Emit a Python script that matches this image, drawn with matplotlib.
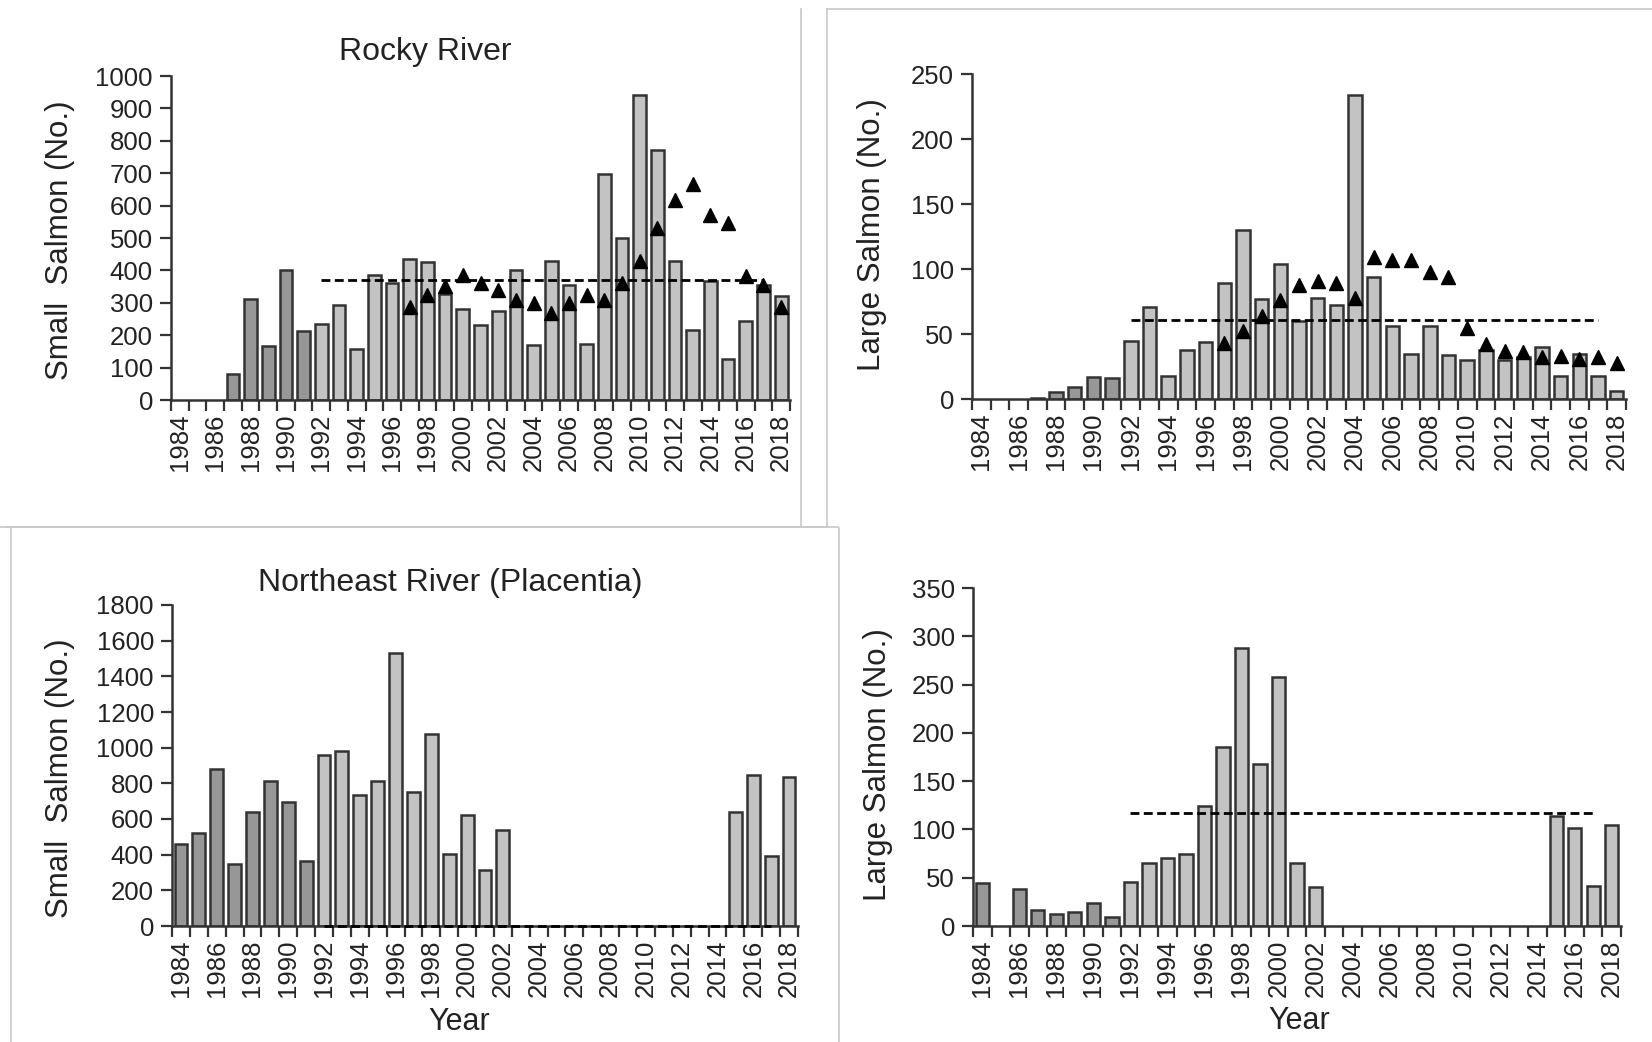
import numpy as np
import matplotlib.pyplot as plt

plt.rcParams['font.family'] = ['Liberation Sans', 'DejaVu Sans']

years = list(range(1984, 2019))
label_years = list(range(1984, 2019, 2))
marker_years = list(range(1997, 2019))
mean_years = [1992, 2017]

# Rocky River counts (None = not counted)
rocky_small = [None, None, None, 80, 311, 166, 401, 214, 235, 293, 156, 387,
               360, 434, 426, 326, 280, 232, 276, 401, 171, 430, 354, 174,
               697, 500, 942, 773, 430, 216, 367, 128, 245, 355, 320]
rocky_small_tri = [288, 324, 352, 385, 362, 340, 308, 300, 267, 300, 325,
                   308, 362, 428, 532, 618, 668, 571, 547, 384, 356, 287]
rocky_small_mean = 370

rocky_large = [None, None, None, 1, 5.5, 9, 17, 16, 45, 71, 18, 38, 44, 89,
               130, 77, 104, 60, 78, 72, 234, 94, 56, 35, 56, 34, 30, 38, 30,
               32, 40, 18, 35, 18, 6]
rocky_large_tri = [43, 52, 64, 76, 88, 91, 89, 78, 109, 107, 107, 98, 94, 55,
                   42, 37, 36, 32, 33, 31, 32, 28]
rocky_large_mean = 60.5

# Northeast River (Placentia) counts
ne_small = [461, 519, 881, 349, 639, 812, 697, 366, 958, 982, 735, 812, 1532,
            750, 1078, 401, 622, 313, 536] + [None] * 12 + [639, 847, 390, 838]
ne_small_mean = 0

ne_large = [45, None, 38, 17, 12, 15, 24, 9, 46, 65, 70, 75, 124, 185, 288,
            168, 258, 65, 40] + [None] * 12 + [114, 101, 41, 105]
ne_large_mean = 117

DARK = '#979797'
LIGHT = '#c3c3c3'
EDGE = '#333333'
TXT = '#222222'

fig = plt.figure(figsize=(16.52, 10.42), dpi=100)
W, H = 1652, 1042


def px_axes(left, right, top, bottom):
    return fig.add_axes([left / W, 1 - bottom / H, (right - left) / W, (bottom - top) / H])


def panel(ax, values, ymax, ystep, tri=None, mean=None):
    vals = np.array([np.nan if v is None else v for v in values], dtype=float)
    yrs = np.array(years)
    colors = [DARK if y <= 1991 else LIGHT for y in yrs]
    ax.bar(yrs, vals, width=0.72, color=colors, edgecolor=EDGE, linewidth=1.8, zorder=2)
    if mean is not None:
        ax.plot(mean_years, [mean, mean], color='black', lw=2.0, dashes=(3.2, 1.6),
                zorder=3, clip_on=False)
    if tri is not None:
        ax.plot(marker_years, tri, ls='none', marker='^', color='black', ms=9.5, zorder=4)
    ax.set_xlim(1983.5, 2018.5)
    ax.set_ylim(0, ymax)
    ax.set_yticks(np.arange(0, ymax + ystep / 2, ystep))
    ax.set_xticks(np.arange(1983.5, 2019, 1))
    ax.set_xticklabels([])
    ax.set_xticks(label_years, minor=True)
    ax.set_xticklabels([str(y) for y in label_years], minor=True, rotation=90)
    ax.tick_params(axis='x', which='major', length=8, width=1.6, color=EDGE, direction='out')
    ax.tick_params(axis='x', which='minor', length=0, pad=10, labelsize=18.5, labelcolor=TXT)
    ax.tick_params(axis='y', length=8, width=1.6, color=EDGE, pad=5, labelsize=18.5,
                   labelcolor=TXT)
    for s in ['top', 'right']:
        ax.spines[s].set_visible(False)
    for s in ['left', 'bottom']:
        ax.spines[s].set_color(EDGE)
        ax.spines[s].set_linewidth(1.8)


ax1 = px_axes(171, 790, 76, 400)
panel(ax1, rocky_small, 1000, 100, rocky_small_tri, rocky_small_mean)

ax2 = px_axes(972, 1626, 74, 399)
panel(ax2, rocky_large, 250, 50, rocky_large_tri, rocky_large_mean)

ax3 = px_axes(172, 798, 605, 926)
panel(ax3, ne_small, 1800, 200, None, ne_small_mean)

ax4 = px_axes(973, 1621, 588, 926)
panel(ax4, ne_large, 350, 50, None, ne_large_mean)

# titles and axis labels
fig.text(425 / W, 1 - 52 / H, 'Rocky River', ha='center', va='center', fontsize=23, color=TXT)
fig.text(450 / W, 1 - 583 / H, 'Northeast River (Placentia)', ha='center', va='center',
         fontsize=23, color=TXT)
fig.text(60 / W, 1 - 240 / H, 'Small  Salmon (No.)', rotation=90, ha='center', va='center',
         fontsize=22.5, color=TXT)
fig.text(872 / W, 1 - 235 / H, 'Large Salmon (No.)', rotation=90, ha='center', va='center',
         fontsize=22.5, color=TXT)
fig.text(60 / W, 1 - 778 / H, 'Small  Salmon (No.)', rotation=90, ha='center', va='center',
         fontsize=22.5, color=TXT)
fig.text(878 / W, 1 - 765 / H, 'Large Salmon (No.)', rotation=90, ha='center', va='center',
         fontsize=22.5, color=TXT)
fig.text(459 / W, 1 - 1022 / H, 'Year', ha='center', va='center', fontsize=22, color=TXT)
fig.text(1299 / W, 1 - 1021 / H, 'Year', ha='center', va='center', fontsize=22, color=TXT)

# light frames around the four panels
frame = dict(color='#c8c8c8', lw=1.2, transform=fig.transFigure)
for xs, ys in [((801, 801), (9, 527)), ((0, 827), (527, 527)),
               ((827, 827), (9, 527)), ((827, W), (9, 9)),
               ((6, 838), (527, 527)), ((11, 11), (528, H)),
               ((838.5, 838.5), (528, H))]:
    fig.add_artist(plt.Line2D([x / W for x in xs], [1 - y / H for y in ys], **frame))

fig.savefig('out.png', dpi=100)
